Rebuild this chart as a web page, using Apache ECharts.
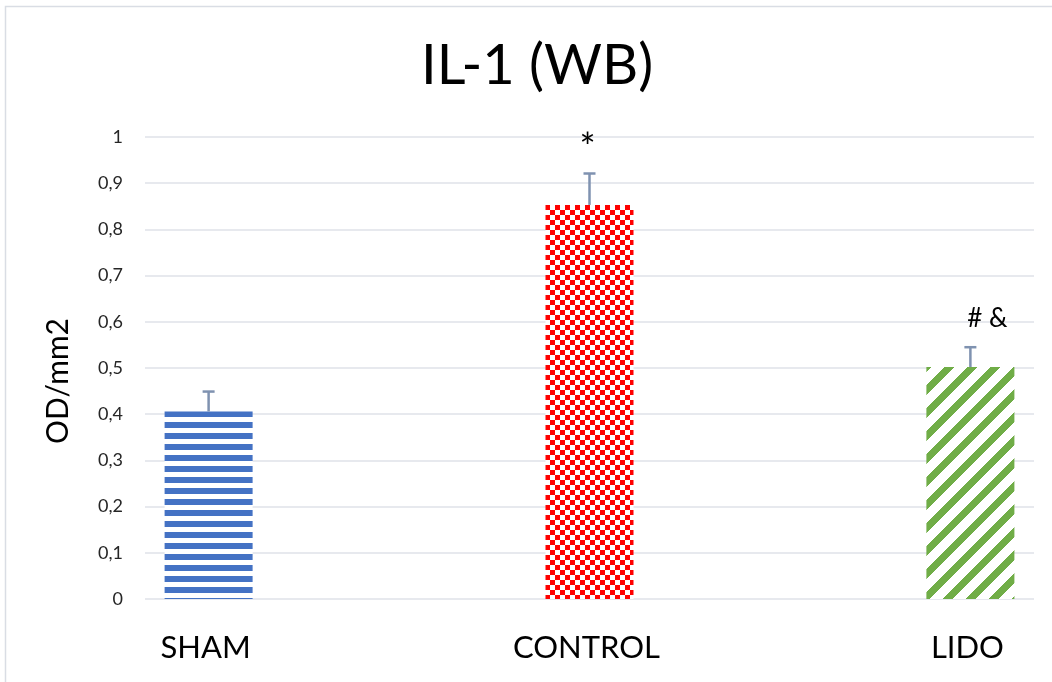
<!DOCTYPE html>
<html>
<head>
<meta charset="utf-8">
<script src="https://cdn.jsdelivr.net/npm/echarts@6/dist/echarts.min.js"></script>
<style>
html,body{margin:0;padding:0;background:#fff;}
#chart{width:1052px;height:682px;}
</style>
</head>
<body>
<div id="chart"></div>
<script>
// ---- data ----
const categories = ['SHAM', 'CONTROL', 'LIDO'];
const values = [0.406, 0.853, 0.502];
const errors = [0.043, 0.068, 0.043];
const annotations = ['', '*', '# &'];
const annotationY = [null, 0.975, 0.606];
const yTicks = [0, 0.1, 0.2, 0.3, 0.4, 0.5, 0.6, 0.7, 0.8, 0.9, 1];

// ---- patterns ----
function makeTile(w, h, fn) {
  const c = document.createElement('canvas');
  c.width = w; c.height = h;
  const ctx = c.getContext('2d');
  const img = ctx.createImageData(w, h);
  for (let y = 0; y < h; y++) for (let x = 0; x < w; x++) {
    const col = fn(x, y);
    const i = (y * w + x) * 4;
    img.data[i] = col[0]; img.data[i+1] = col[1]; img.data[i+2] = col[2]; img.data[i+3] = 255;
  }
  ctx.putImageData(img, 0, 0);
  return c;
}
const WHITE = [255,255,255];
const BLUE = [68,114,196];
const RED = [255,0,0];
const GREEN = [112,173,71];
const stripeTile = makeTile(11, 11, (x, y) => (((y - 4) % 11 + 11) % 11) < 6 ? BLUE : WHITE);
const checkTile = makeTile(10, 10, (x, y) => ((Math.floor(x / 5) + Math.floor(y / 5)) % 2 === 0) ? RED : WHITE);
const diagTile = makeTile(23, 23, (x, y) => ((x + y) % 23) < 10 ? GREEN : WHITE);
const patterns = [
  {image: stripeTile, repeat: 'repeat'},
  {image: checkTile, repeat: 'repeat'},
  {image: diagTile, repeat: 'repeat'}
];

const FONT = 'Lato, Carlito, "Open Sans", sans-serif';
const chart = echarts.init(document.getElementById('chart'), null, {renderer: 'canvas'});

const option = {
  backgroundColor: '#ffffff',
  animation: false,
  title: {
    text: 'IL-1 (WB)',
    left: 416,
    top: 33,
    textStyle: {fontFamily: FONT, fontSize: 56, fontWeight: 'normal', color: '#000000'}
  },
  graphic: [{
    type: 'rect',
    shape: {x: 5.5, y: 6.5, width: 1200, height: 1000},
    style: {fill: 'none', stroke: '#d9dde4', lineWidth: 1.5},
    silent: true
  }],
  grid: {left: 145, right: 18, top: 137, bottom: 83},
  xAxis: {
    type: 'value',
    min: -0.167,
    max: 2.167,
    axisLine: {show: false},
    axisTick: {show: false},
    splitLine: {show: false},
    axisLabel: {
      customValues: [0, 1, 2],
      formatter: v => categories[Math.round(v)] || '',
      fontFamily: FONT, fontSize: 31, color: '#000000', margin: 33,
      padding: [0, 6, 0, 0]
    }
  },
  yAxis: {
    type: 'value',
    min: 0, max: 1, interval: 0.1,
    name: 'OD/mm2',
    nameLocation: 'middle',
    nameRotate: 90,
    nameGap: 72,
    nameTextStyle: {fontFamily: FONT, fontSize: 30, color: '#000000', padding: [0, 26, 0, 0]},
    axisLine: {show: false},
    axisTick: {show: false},
    splitLine: {show: true, lineStyle: {color: '#dfe2e8', width: 1.5}},
    axisLabel: {
      customValues: yTicks,
      formatter: v => String(Math.round(v * 10) / 10).replace('.', ','),
      fontFamily: FONT, fontSize: 18, color: '#262626', margin: 22
    }
  },
  series: [
    {
      type: 'bar',
      barWidth: 88,
      data: values.map((v, i) => ({value: [i, v], itemStyle: {color: patterns[i]}})),
      silent: true
    },
    {
      type: 'custom',
      silent: true,
      data: values.map((v, i) => [i, v, v + errors[i]]),
      renderItem: function (params, api) {
        const p0 = api.coord([api.value(0), api.value(1)]);
        const p1 = api.coord([api.value(0), api.value(2)]);
        const half = 6;
        return {
          type: 'group',
          children: [
            {type: 'line', shape: {x1: p0[0], y1: p0[1], x2: p1[0], y2: p1[1]}, style: {stroke: '#7f92b0', lineWidth: 2.5}},
            {type: 'line', shape: {x1: p1[0] - half, y1: p1[1], x2: p1[0] + half, y2: p1[1]}, style: {stroke: '#7f92b0', lineWidth: 2.5}}
          ]
        };
      },
      z: 5
    },
    {
      type: 'custom',
      silent: true,
      data: annotations.map((t, i) => [i, annotationY[i] == null ? 0 : annotationY[i], t]),
      renderItem: function (params, api) {
        const idx = params.dataIndex;
        const txt = annotations[idx];
        if (!txt) return null;
        const p = api.coord([api.value(0), api.value(1)]);
        const isStar = txt === '*';
        return {
          type: 'text',
          style: {
            x: p[0] + (isStar ? -2 : 17), y: p[1], text: txt,
            align: 'center', verticalAlign: 'middle',
            font: (isStar ? '38px ' : '26px ') + FONT, fill: '#000000'
          }
        };
      },
      z: 6
    }
  ]
};
chart.setOption(option);
</script>
</body>
</html>
